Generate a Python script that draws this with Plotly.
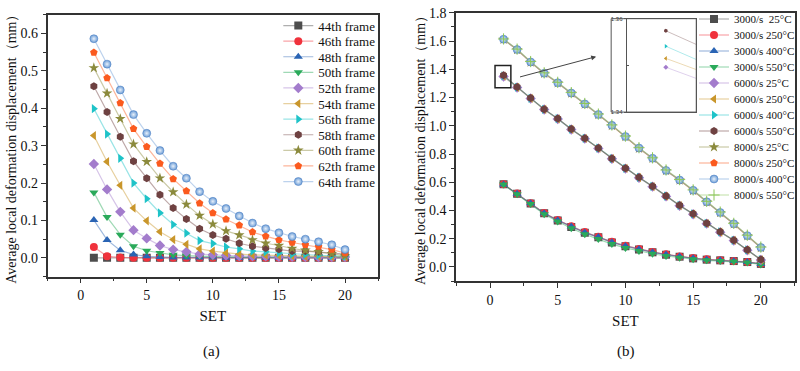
import plotly.graph_objects as go

W, H = 800, 371
SET = list(range(1, 21))

# ---------- panel (a) data ----------
frame_names = ["44th frame", "46th frame", "48th frame", "50th frame", "52th frame", "54th frame",
               "56th frame", "58th frame", "60th frame", "62th frame", "64th frame"]
f44 = [0.0]*20
f46 = [0.029, 0.004, 0.001, 0.0, 0.0, 0.0, 0.0, 0.0, 0.0, 0.0, 0.0, 0.0, 0.0, 0.0, 0.0, 0.0, 0.0, 0.0, 0.0, 0.0]
f48 = [0.101, 0.048, 0.020, 0.009, 0.004, 0.002, 0.001, 0.001, 0.001, 0.001, 0.0, 0.0, 0.0, 0.0, 0.0, 0.0, 0.0, 0.0, 0.0, 0.0]
f50 = [0.175, 0.109, 0.062, 0.031, 0.019, 0.013, 0.008, 0.006, 0.004, 0.003, 0.003, 0.002, 0.002, 0.002, 0.002, 0.002, 0.002, 0.002, 0.002, 0.002]
f52 = [0.251, 0.183, 0.123, 0.074, 0.052, 0.033, 0.022, 0.016, 0.010, 0.008, 0.006, 0.005, 0.004, 0.004, 0.003, 0.003, 0.002, 0.002, 0.002, 0.002]
f54 = [0.327, 0.257, 0.194, 0.133, 0.099, 0.070, 0.049, 0.036, 0.024, 0.018, 0.013, 0.010, 0.008, 0.007, 0.006, 0.005, 0.004, 0.004, 0.003, 0.003]
f56 = [0.399, 0.331, 0.266, 0.200, 0.158, 0.120, 0.089, 0.066, 0.046, 0.038, 0.029, 0.024, 0.018, 0.016, 0.013, 0.010, 0.009, 0.007, 0.006, 0.004]
f58 = [0.459, 0.390, 0.324, 0.258, 0.213, 0.169, 0.133, 0.104, 0.078, 0.061, 0.051, 0.039, 0.031, 0.026, 0.023, 0.018, 0.018, 0.016, 0.013, 0.010]
f60 = [0.508, 0.440, 0.372, 0.304, 0.257, 0.213, 0.176, 0.143, 0.113, 0.090, 0.072, 0.061, 0.048, 0.039, 0.033, 0.025, 0.020, 0.016, 0.011, 0.005]
f62 = [0.549, 0.481, 0.414, 0.345, 0.297, 0.252, 0.211, 0.179, 0.146, 0.120, 0.103, 0.087, 0.069, 0.058, 0.048, 0.041, 0.035, 0.030, 0.022, 0.013]
f64 = [0.586, 0.518, 0.449, 0.383, 0.333, 0.287, 0.245, 0.213, 0.177, 0.151, 0.132, 0.112, 0.093, 0.078, 0.067, 0.057, 0.050, 0.043, 0.035, 0.022]
frames = [f44, f46, f48, f50, f52, f54, f56, f58, f60, f62, f64]

# ---------- panel (b) data ----------
cond_names = ["3000/s  25°C", "3000/s 250°C", "3000/s 400°C", "3000/s 550°C",
              "6000/s 25°C", "6000/s 250°C", "6000/s 400°C", "6000/s 550°C",
              "8000/s 25°C", "8000/s 250°C", "8000/s 400°C", "8000/s 550°C"]
s3000_25 = [0.586, 0.519, 0.450, 0.380, 0.330, 0.284, 0.243, 0.210, 0.174, 0.147, 0.124, 0.104, 0.087, 0.073, 0.061, 0.052, 0.047, 0.042, 0.035, 0.022]
s3000_250 = [0.586, 0.520, 0.452, 0.382, 0.333, 0.288, 0.247, 0.214, 0.178, 0.151, 0.128, 0.107, 0.090, 0.075, 0.063, 0.054, 0.048, 0.043, 0.036, 0.023]
s3000_400 = [0.585, 0.519, 0.451, 0.381, 0.331, 0.286, 0.245, 0.212, 0.176, 0.149, 0.126, 0.105, 0.088, 0.074, 0.062, 0.053, 0.047, 0.042, 0.035, 0.022]
s3000_550 = [0.584, 0.516, 0.446, 0.374, 0.322, 0.274, 0.232, 0.198, 0.162, 0.135, 0.113, 0.094, 0.078, 0.065, 0.055, 0.047, 0.042, 0.038, 0.031, 0.018]
s6000_25 = [1.3496, 1.271, 1.193, 1.115, 1.048, 0.974, 0.909, 0.840, 0.766, 0.697, 0.632, 0.569, 0.500, 0.434, 0.374, 0.307, 0.246, 0.187, 0.119, 0.050]
s6000_250 = [1.3515, 1.272, 1.194, 1.116, 1.049, 0.975, 0.910, 0.841, 0.767, 0.698, 0.633, 0.570, 0.501, 0.435, 0.375, 0.308, 0.247, 0.188, 0.120, 0.051]
s6000_400 = [1.3541, 1.273, 1.195, 1.117, 1.050, 0.976, 0.911, 0.842, 0.768, 0.699, 0.634, 0.571, 0.502, 0.436, 0.376, 0.309, 0.248, 0.189, 0.121, 0.052]
s6000_550 = [1.3574, 1.274, 1.196, 1.118, 1.051, 0.977, 0.912, 0.843, 0.769, 0.700, 0.635, 0.572, 0.503, 0.437, 0.377, 0.310, 0.249, 0.190, 0.122, 0.053]
s8000_25 = [1.611, 1.538, 1.450, 1.370, 1.303, 1.230, 1.153, 1.078, 1.001, 0.922, 0.840, 0.768, 0.682, 0.614, 0.541, 0.460, 0.384, 0.304, 0.220, 0.136]
s8000_250 = [1.612, 1.539, 1.451, 1.371, 1.304, 1.231, 1.154, 1.079, 1.002, 0.923, 0.841, 0.769, 0.683, 0.615, 0.542, 0.461, 0.385, 0.305, 0.221, 0.137]
s8000_400 = [1.613, 1.540, 1.452, 1.372, 1.305, 1.232, 1.155, 1.080, 1.003, 0.924, 0.842, 0.770, 0.684, 0.616, 0.543, 0.462, 0.386, 0.306, 0.222, 0.138]
s8000_550 = [1.615, 1.543, 1.455, 1.375, 1.308, 1.235, 1.158, 1.083, 1.006, 0.927, 0.845, 0.773, 0.687, 0.619, 0.546, 0.465, 0.389, 0.309, 0.225, 0.141]
conds = [s3000_25, s3000_250, s3000_400, s3000_550, s6000_25, s6000_250, s6000_400, s6000_550,
         s8000_25, s8000_250, s8000_400, s8000_550]

# ---------- styles ----------
colors = ["#4d4d4d", "#f0323c", "#2a64b4", "#2aaa5a", "#a37ccc", "#c9962b",
          "#1ec3c8", "#6e4141", "#8b8a3c", "#fb5a1e", "#6a9cd6", "#8cc65a"]
symbols = ["square", "circle", "triangle-up", "triangle-down", "diamond", "triangle-left",
           "triangle-right", "hexagon", "star", "pentagon", "circle", "cross-thin"]

def rgba(hexc, a):
    h = hexc.lstrip("#")
    r, g, b = int(h[0:2], 16), int(h[2:4], 16), int(h[4:6], 16)
    return f"rgba({r},{g},{b},{a})"

def marker(i, size=8):
    m = dict(symbol=symbols[i], color=colors[i], size=size, line=dict(width=0))
    if i == 10:
        m["gradient"] = dict(type="radial", color="#e8f0fa")
        m["line"] = dict(width=0.5, color="#4a7cc0")
    if i == 11:
        m["line"] = dict(width=1, color=colors[i])
        m["size"] = size
    return m

FONT = "Liberation Serif"
fig = go.Figure()

for i, (nm, ys) in enumerate(zip(frame_names, frames)):
    fig.add_trace(go.Scatter(x=SET, y=ys, name=nm, mode="lines+markers",
                             line=dict(color=rgba(colors[i], 0.45), width=1.2),
                             marker=marker(i), xaxis="x", yaxis="y", legend="legend"))

for i, (nm, ys) in enumerate(zip(cond_names, conds)):
    fig.add_trace(go.Scatter(x=SET, y=ys, name=nm, mode="lines+markers",
                             line=dict(color=rgba(colors[i], 0.45), width=1.2),
                             marker=marker(i), xaxis="x2", yaxis="y2", legend="legend2"))

# inset (zoom of the first 6000/s points)
for i in range(4, 8):
    fig.add_trace(go.Scatter(x=SET, y=conds[i], mode="lines+markers", showlegend=False,
                             line=dict(color=rgba(colors[i], 0.35), width=1),
                             marker=dict(symbol=symbols[i], color=colors[i], size=4),
                             xaxis="x3", yaxis="y3", cliponaxis=True))

axis_common = dict(showline=True, linecolor="#333", linewidth=1.5, mirror=True,
                   ticks="outside", ticklen=5, tickwidth=1.2, tickcolor="#333",
                   showgrid=False, zeroline=False,
                   tickfont=dict(family=FONT, size=14, color="#111"))

fig.update_layout(
    width=W, height=H, margin=dict(l=0, r=0, t=0, b=0),
    paper_bgcolor="white", plot_bgcolor="white",
    font=dict(family=FONT, color="#111"),
    xaxis=dict(domain=[47.7/W, 379/W], range=[-2.5, 22.5], dtick=5, anchor="y",
               minor=dict(dtick=2.5, ticks="outside", ticklen=3, tickcolor="#333"),
               title=dict(text="SET", font=dict(family=FONT, size=15), standoff=8),
               **axis_common),
    yaxis=dict(domain=[1-277/H, 1-8/H], range=[-0.05, 0.65], dtick=0.1, tickformat=".1f", anchor="x",
               minor=dict(dtick=0.05, ticks="outside", ticklen=3, tickcolor="#333"),
               title=dict(text="Average local deformation displacement（mm）", font=dict(family=FONT, size=14), standoff=1),
               **axis_common),
    xaxis2=dict(domain=[457.3/W, 796.7/W], range=[-2.5, 22.5], dtick=5, anchor="y2",
                minor=dict(dtick=2.5, ticks="outside", ticklen=3, tickcolor="#333"),
                title=dict(text="SET", font=dict(family=FONT, size=15), standoff=9),
                **axis_common),
    yaxis2=dict(domain=[1-281.7/H, 1-6/H], range=[-0.1, 1.8], dtick=0.2, tickformat=".1f", anchor="x2",
                minor=dict(dtick=0.1, ticks="outside", ticklen=3, tickcolor="#333"),
                title=dict(text="Average local deformation displacement（mm）", font=dict(family=FONT, size=14), standoff=0),
                **axis_common),
    xaxis3=dict(domain=[628.3/W, 698/W], range=[0.955, 1.035], anchor="y3",
                showline=True, linecolor="#555", linewidth=1, mirror=True, showticklabels=False,
                ticks="", showgrid=False, zeroline=False),
    yaxis3=dict(domain=[1-108/H, 1-12/H], range=[1.34, 1.36], anchor="x3",
                tickvals=[1.34, 1.36], ticktext=["1.34", "1.36"], tickformat=".2f",
                showline=True, linecolor="#555", linewidth=1, mirror=True,
                ticks="outside", ticklen=2, tickcolor="#555",
                minor=dict(dtick=0.01, ticks="inside", ticklen=2, tickcolor="#555"),
                tickfont=dict(family="Liberation Sans", size=6, color="#333"),
                showgrid=False, zeroline=False),
    legend=dict(x=279/W, y=1-3.7/H, xanchor="left", yanchor="top", bgcolor="rgba(0,0,0,0)",
                font=dict(family=FONT, size=13, color="#111"), tracegroupgap=0, itemwidth=30),
    legend2=dict(x=696/W, y=1.0, xanchor="left", yanchor="top", bgcolor="rgba(0,0,0,0)",
                 font=dict(family=FONT, size=11, color="#111"), tracegroupgap=0, itemwidth=30),
    shapes=[
        dict(type="rect", xref="paper", yref="paper", x0=612.7/W, x1=698/W, y0=1-108/H, y1=1-12/H,
             line=dict(color="#555", width=1), fillcolor="rgba(0,0,0,0)"),
        dict(type="rect", xref="x2", yref="y2", x0=0.37, x1=1.54, y0=1.27, y1=1.427,
             line=dict(color="#222", width=1.5)),
    ],
    annotations=[
        dict(x=597.7/W, y=1-51/H, xref="paper", yref="paper", ax=-77.7, ay=20.7,
             axref="pixel", ayref="pixel", showarrow=True, arrowhead=2, arrowsize=1,
             arrowwidth=1, arrowcolor="#444", text=""),
        dict(x=212/W, y=1-354/H, xref="paper", yref="paper", text="(a)", showarrow=False,
             xanchor="center", yanchor="middle", font=dict(family=FONT, size=15, color="#111")),
        dict(x=628/W, y=1-354/H, xref="paper", yref="paper", text="(b)", showarrow=False,
             xanchor="center", yanchor="middle", font=dict(family=FONT, size=15, color="#111")),
    ],
)

# tighten the legend row spacing to match the reference (rows ~16 px apart)
post = r"""
var gd = document.getElementById('{plot_id}');
function squeezeLegends(){
  [['legend', 15.6, 0], ['legend2', 16.0, -2.5]].forEach(function(p){
    var lg = gd.querySelector('g.' + p[0]);
    if(!lg) return;
    var items = lg.querySelectorAll('g.traces');
    var ys = [];
    items.forEach(function(t){
      var m = /translate\(\s*([-\d.e]+)[\s,]+([-\d.e]+)\s*\)/.exec(t.getAttribute('transform') || '');
      ys.push(m ? [parseFloat(m[1]), parseFloat(m[2])] : null);
    });
    var y0 = null;
    items.forEach(function(t, k){
      var v = ys[k];
      if(!v) return;
      if(y0 === null) y0 = v[1];
      t.setAttribute('transform', 'translate(' + v[0] + ',' + (y0 + p[2] + k * p[1]) + ')');
    });
  });
}
squeezeLegends();
"""

fig.write_html("out.html", post_script=post)
